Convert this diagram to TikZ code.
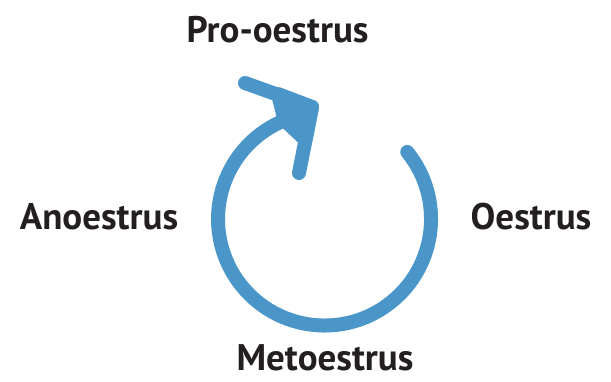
\documentclass[tikz,border=0pt]{standalone}
\usepackage{fontspec}
\setmainfont{PT Sans}
\definecolor{cycleblue}{HTML}{4A96C9}
\definecolor{labelink}{HTML}{231F20}

\begin{document}
\begin{tikzpicture}[x=1pt,y=-1pt,
	phase/.style={font=\fontsize{37}{40}\selectfont\bfseries, text=labelink, inner sep=0pt, anchor=base},
	cyclearc/.style={cycleblue, line width=14pt, line cap=round, line join=round}]
	\useasboundingbox (0,0) rectangle (611,381);
	% stage labels
	\node[phase] (pro) at (277.5,42) {Pro-oestrus};
	\node[phase] (oes) at (531,229) {Oestrus};
	\node[phase] (met) at (325,370) {Metoestrus};
	\node[phase] (ano) at (99,229) {Anoestrus};
	% the cycle arrow
	\coordinate (start) at (407.3,152);
	\coordinate (apex) at (312,107);
	\coordinate (barbup) at (245,83);
	\coordinate (barbdown) at (299,173);
	\draw[cyclearc] (start) arc[start angle=-39, end angle=248, radius=106.5] coordinate (arcend) -- (apex);
	\draw[cyclearc] (barbup) -- (apex) -- (barbdown);
	\filldraw[cyclearc] (apex) -- (278,94) -- (arcend) -- (305.5,140) -- cycle;
\end{tikzpicture}
\end{document}
